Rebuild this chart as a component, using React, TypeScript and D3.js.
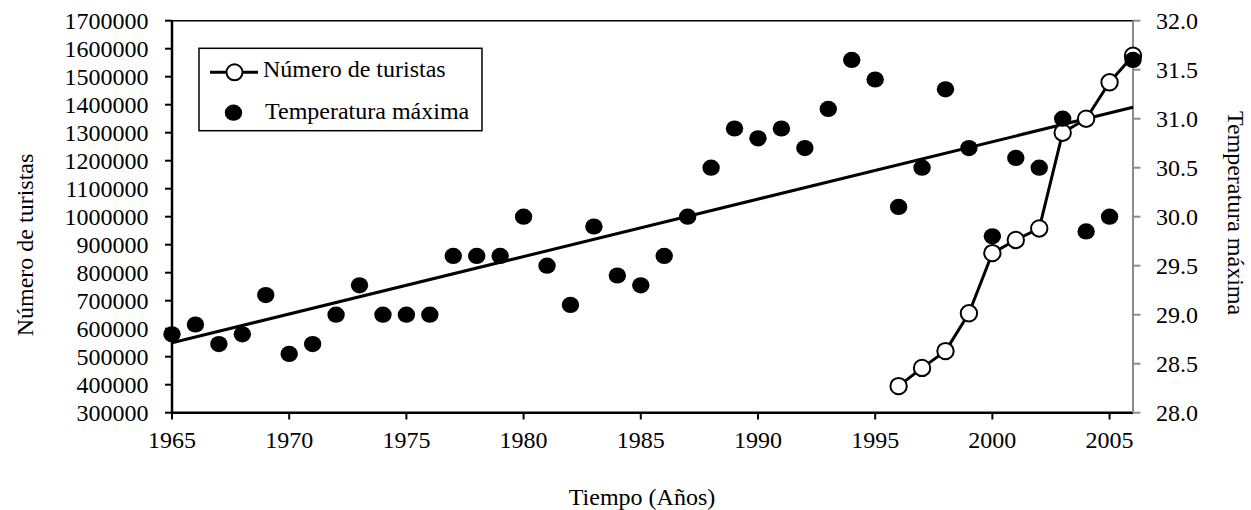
import React from "react";
import * as d3 from "d3";

const years: number[] = d3.range(1965, 2007);
const tempMax: number[] = [
  28.8, 28.9, 28.7, 28.8, 29.2, 28.6, 28.7, 29.0, 29.3, 29.0,
  29.0, 29.0, 29.6, 29.6, 29.6, 30.0, 29.5, 29.1, 29.9, 29.4,
  29.3, 29.6, 30.0, 30.5, 30.9, 30.8, 30.9, 30.7, 31.1, 31.6,
  31.4, 30.1, 30.5, 31.3, 30.7, 29.8, 30.6, 30.5, 31.0, 29.85,
  30.0, 31.6,
];
const touristYears: number[] = [1996, 1997, 1998, 1999, 2000, 2001, 2002, 2003, 2004, 2005, 2006];
const tourists: number[] = [395000, 460000, 520000, 655000, 870000, 917000, 958000, 1300000, 1350000, 1480000, 1575000];
const leftTicks: number[] = d3.range(300000, 1700001, 100000);
const rightTicks: number[] = [28.0, 28.5, 29.0, 29.5, 30.0, 30.5, 31.0, 31.5, 32.0];
const xTicks: number[] = [1965, 1970, 1975, 1980, 1985, 1990, 1995, 2000, 2005];

const FONT = "'Liberation Serif', 'Times New Roman', serif";
const FS = 24;

export default function App() {
  const x = d3.scaleLinear().domain([1965, 2006]).range([172, 1133]);
  const yL = d3.scaleLinear().domain([300000, 1700000]).range([412.7, 20.7]);
  const yR = d3.scaleLinear().domain([28, 32]).range([412.7, 20.7]);

  // linear trendline of maximum temperature (least squares)
  const mx = d3.mean(years)!;
  const my = d3.mean(tempMax)!;
  let sxy = 0, sxx = 0;
  years.forEach((yr, i) => {
    sxy += (yr - mx) * (tempMax[i] - my);
    sxx += (yr - mx) * (yr - mx);
  });
  const slope = sxy / sxx;
  const intercept = my - slope * mx;
  const trend = (yr: number) => intercept + slope * yr;

  const touristLine = d3
    .line<number>()
    .x((_, i) => x(touristYears[i]))
    .y((d) => yL(d));

  const textStyle = { fontFamily: FONT, fontSize: FS, fill: "#000" } as const;

  return (
    <div style={{ position: "absolute", left: 0, top: 0 }}>
      <svg width={1251} height={510} style={{ display: "block", background: "#fff" }}>
        <rect x={0} y={0} width={1251} height={510} fill="#fff" />

        {/* top border */}
        <line x1={172} x2={1133} y1={20.7} y2={20.7} stroke="#000" strokeWidth={1.5} />

        {/* left axis */}
        <line x1={172} x2={172} y1={20.7} y2={413.7} stroke="#000" strokeWidth={2.5} />
        {leftTicks.map((t) => (
          <g key={"l" + t}>
            <line x1={165} x2={172} y1={yL(t)} y2={yL(t)} stroke="#000" strokeWidth={2} />
            <text x={148.5} y={yL(t) + 8} textAnchor="end" style={textStyle}>
              {t}
            </text>
          </g>
        ))}

        {/* bottom axis */}
        <line x1={170.8} x2={1133} y1={412.7} y2={412.7} stroke="#000" strokeWidth={2.5} />
        {xTicks.map((t) => (
          <g key={"x" + t}>
            <line x1={x(t)} x2={x(t)} y1={412.7} y2={419.5} stroke="#000" strokeWidth={2} />
            <text x={x(t)} y={448} textAnchor="middle" style={textStyle}>
              {t}
            </text>
          </g>
        ))}

        {/* right axis */}
        <line x1={1133} x2={1133} y1={20.7} y2={412.7} stroke="#8c8c8c" strokeWidth={2} />
        {rightTicks.map((t) => (
          <g key={"r" + t}>
            <line x1={1133} x2={1140.5} y1={yR(t)} y2={yR(t)} stroke="#8c8c8c" strokeWidth={2} />
            <text x={1156} y={yR(t) + 8} textAnchor="start" style={textStyle}>
              {t.toFixed(1)}
            </text>
          </g>
        ))}

        {/* trend line */}
        <line
          x1={x(1965)}
          y1={yR(trend(1965))}
          x2={x(2006)}
          y2={yR(trend(2006))}
          stroke="#000"
          strokeWidth={3}
        />

        {/* tourists series */}
        <path d={touristLine(tourists) || ""} fill="none" stroke="#000" strokeWidth={3} strokeLinejoin="round" />
        {tourists.map((v, i) => (
          <circle key={"c" + i} cx={x(touristYears[i])} cy={yL(v)} r={8.2} fill="#fff" stroke="#000" strokeWidth={2} />
        ))}

        {/* max temperature points */}
        {tempMax.map((v, i) => (
          <ellipse key={"t" + i} cx={x(years[i])} cy={yR(v)} rx={8.7} ry={8.1} fill="#000" />
        ))}

        {/* legend */}
        <rect x={199} y={48.3} width={283} height={82.4} fill="#fff" stroke="#000" strokeWidth={1.5} />
        <line x1={210} x2={258} y1={72.3} y2={72.3} stroke="#000" strokeWidth={3} />
        <circle cx={234.5} cy={72.3} r={8} fill="#fff" stroke="#000" strokeWidth={2} />
        <text x={263} y={77} style={textStyle}>Número de turistas</text>
        <ellipse cx={233.5} cy={112.7} rx={8.7} ry={8.1} fill="#000" />
        <text x={265} y={118.5} style={textStyle}>Temperatura máxima</text>

        {/* axis titles */}
        <text transform="translate(33,245) rotate(-90)" textAnchor="middle" style={textStyle}>
          Número de turistas
        </text>
        <text transform="translate(1228,213) rotate(90)" textAnchor="middle" style={textStyle}>
          Temperatura máxima
        </text>
        <text x={642} y={505} textAnchor="middle" style={textStyle}>
          Tiempo (Años)
        </text>
      </svg>
    </div>
  );
}
